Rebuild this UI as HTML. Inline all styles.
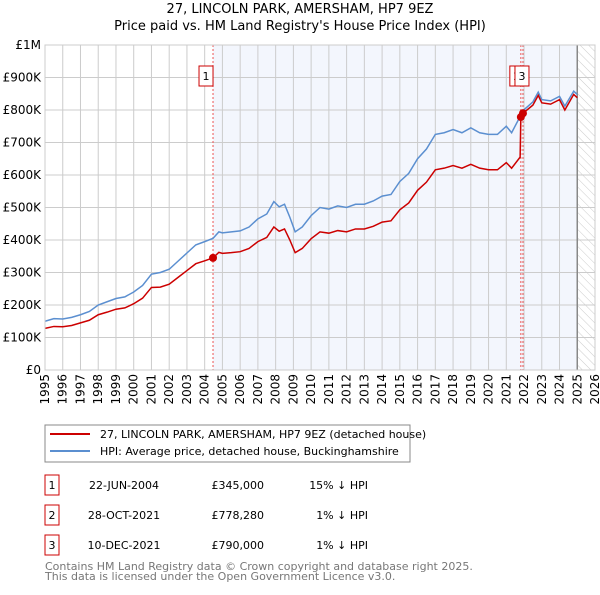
<!DOCTYPE html>
<html><head><meta charset="utf-8"><style>
body{margin:0;background:#fff;font-family:"Liberation Sans","DejaVu Sans",sans-serif}
svg text{font-family:"DejaVu Sans","Liberation Sans",sans-serif}
</style></head><body>
<svg id="chart" width="600" height="590">
<defs><pattern id="hatch" width="6" height="6" patternUnits="userSpaceOnUse" patternTransform="rotate(-45)"><line x1="0" y1="0" x2="0" y2="6" stroke="#ccc" stroke-width="1"/></pattern></defs>
<text x="300" y="13" text-anchor="middle" font-size="13">27, LINCOLN PARK, AMERSHAM, HP7 9EZ</text>
<text x="300" y="30" text-anchor="middle" font-size="13">Price paid vs. HM Land Registry's House Price Index (HPI)</text>
<g id="plot"></g>
<g>
<rect x="45" y="425" width="365" height="37" fill="#fff" stroke="#888"/>
<line x1="50" y1="434" x2="90" y2="434" stroke="#c00" stroke-width="2"/>
<text x="100" y="438" font-size="11">27, LINCOLN PARK, AMERSHAM, HP7 9EZ (detached house)</text>
<line x1="50" y1="451" x2="90" y2="451" stroke="#5b8fd0" stroke-width="2"/>
<text x="100" y="455" font-size="11">HPI: Average price, detached house, Buckinghamshire</text>
</g>
<g id="table" font-size="11"></g>
<text x="45" y="570" font-size="11" fill="#777">Contains HM Land Registry data © Crown copyright and database right 2025.</text>
<text x="45" y="580" font-size="11" fill="#777">This data is licensed under the Open Government Licence v3.0.</text>
</svg>
<script>
const dates=[1995.0,1995.5,1996.0,1996.5,1997.0,1997.5,1998.0,1998.5,1999.0,1999.5,2000.0,2000.5,2001.0,2001.5,2002.0,2002.5,2003.0,2003.5,2004.0,2004.47,2004.8,2005.0,2005.5,2006.0,2006.5,2007.0,2007.5,2007.9,2008.2,2008.5,2008.8,2009.1,2009.5,2010.0,2010.5,2011.0,2011.5,2012.0,2012.5,2013.0,2013.5,2014.0,2014.5,2015.0,2015.5,2016.0,2016.5,2017.0,2017.5,2018.0,2018.5,2019.0,2019.5,2020.0,2020.5,2021.0,2021.3,2021.78,2021.82,2021.94,2022.5,2022.8,2023.0,2023.5,2024.0,2024.3,2024.8,2025.0];
const hpi=[150,158,157,162,170,180,200,210,220,225,240,260,295,300,310,335,360,385,395,405,425,422,425,428,440,465,480,518,502,510,470,425,440,475,500,495,505,500,510,510,520,535,540,580,605,650,680,725,730,740,730,745,730,725,725,750,730,780,786,798,825,855,832,828,842,812,858,848];
const paid=[128,134,133,137,145,153,170,178,187,191,204,221,254,255,264,285,306,327,336,345,362,359,361,364,374,395,408,440,427,434,400,361,374,404,425,421,429,425,434,434,442,455,459,493,514,553,578,616,621,629,621,633,621,616,616,638,621,655,778,790,815,845,822,818,832,800,848,838];
const yTicks=[0,100,200,300,400,500,600,700,800,900,1000];
const yLabels=["£0","£100K","£200K","£300K","£400K","£500K","£600K","£700K","£800K","£900K","£1M"];
const xYears=[1995,1996,1997,1998,1999,2000,2001,2002,2003,2004,2005,2006,2007,2008,2009,2010,2011,2012,2013,2014,2015,2016,2017,2018,2019,2020,2021,2022,2023,2024,2025,2026];
const saleDates=[2004.47,2021.82,2021.94];
const saleVals=[345,778.28,790];
const saleLabels=["1","2","3"];
const saleDateText=["22-JUN-2004","28-OCT-2021","10-DEC-2021"];
const salePriceText=["£345,000","£778,280","£790,000"];
const saleHpiText=["15% ↓ HPI","1% ↓ HPI","1% ↓ HPI"];
const L=45,R=595,T=45,B=370;
const X=d=>L+(d-1995)/(2026-1995)*(R-L);
const Y=v=>B-v/1000*(B-T);
const NS="http://www.w3.org/2000/svg";
const g=document.getElementById('plot');
function mk(tag,attrs,parent){const e=document.createElementNS(NS,tag);for(const k in attrs)e.setAttribute(k,attrs[k]);(parent||g).appendChild(e);return e;}
let e;
e=mk('rect',{x:X(saleDates[0]),y:T,width:X(2025)-X(saleDates[0]),height:B-T,fill:'#f3f6fd'});


e=mk('rect',{x:X(2025),y:T,width:R-X(2025),height:B-T,fill:'url(#hatch)'});


yTicks.forEach((v,i)=>{
 e=mk('line',{x1:L,x2:R,y1:Y(v),y2:Y(v),stroke:'#ccc'});
 
 
 e=mk('text',{x:L-4,y:Y(v)+4,'text-anchor':'end','font-size':12});
 
 
 e.textContent=yLabels[i];
});
xYears.forEach(yr=>{
 e=mk('line',{x1:X(yr),x2:X(yr),y1:T,y2:B,stroke:'#ccc'});
 
 
 e=mk('text',{x:X(yr)+4,y:B+4,'text-anchor':'end','font-size':12,transform:`rotate(-90 ${X(yr)+4} ${B+4})`});
 
 
 e.textContent=yr;
});
e=mk('line',{x1:X(2025),x2:X(2025),y1:T,y2:B,stroke:'#888',"stroke-width":1.5});


saleDates.forEach(d=>{
 e=mk('line',{x1:X(d),x2:X(d),y1:T,y2:B,stroke:'#e55','stroke-dasharray':'2,2'});
 
 
});
e=mk('polyline',{points:dates.map((d,i)=>X(d)+','+Y(hpi[i])).join(' '),fill:'none',stroke:'#5b8fd0','stroke-width':1.5});


e=mk('polyline',{points:dates.map((d,i)=>X(d)+','+Y(paid[i])).join(' '),fill:'none',stroke:'#c00','stroke-width':1.5});


saleDates.forEach((d,i)=>{
 e=mk('circle',{cx:X(d),cy:Y(saleVals[i]),r:4,fill:'#c00'});
 
 
});
[[0,-7],[1,-4],[2,-1]].forEach(([i,off])=>{
 const bx=X(saleDates[i])+off-7;
 e=mk('rect',{x:bx,y:66,width:14,height:20,fill:'#fff',stroke:'#c00'});
 
 
 e=mk('text',{x:bx+7,y:80,'text-anchor':'middle','font-size':11});
 
 
 e.textContent=saleLabels[i];
});
e=mk('rect',{x:L,y:T,width:R-L,height:B-T,fill:'none',stroke:'#ccc'});


const tb=document.getElementById('table');
saleLabels.forEach((s,i)=>{
 const cy=483+i*30;
 e=mk('rect',{x:45,y:cy-8,width:14,height:20,fill:'#fff',stroke:'#c00'},tb);
 
 
 e=mk('text',{x:52,y:cy+6,'text-anchor':'middle'},tb);
 
 
 e.textContent=s;
 e=mk('text',{x:124,y:cy+6,'text-anchor':'middle'},tb);
 
 
 e.textContent=saleDateText[i];
 e=mk('text',{x:264,y:cy+6,'text-anchor':'end'},tb);
 
 
 e.textContent=salePriceText[i];
 e=mk('text',{x:368,y:cy+6,'text-anchor':'end'},tb);
 
 
 e.textContent=saleHpiText[i];
});
</script>
</body></html>
